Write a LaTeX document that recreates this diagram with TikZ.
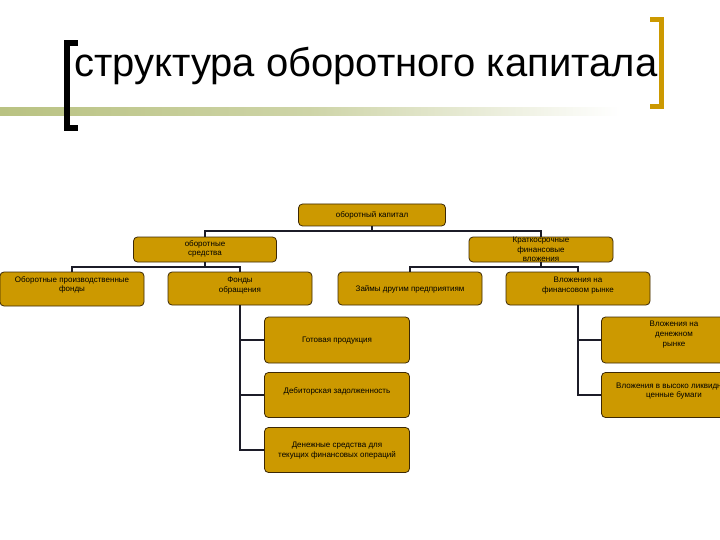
\documentclass[tikz,border=0pt]{standalone}
\usepackage{fontspec}
\setmainfont{Liberation Sans}
\definecolor{boxgold}{RGB}{204,153,0}
\definecolor{boxedge}{RGB}{60,40,5}
\definecolor{linkcol}{RGB}{28,28,40}
\definecolor{rulegreen}{RGB}{185,194,130}
\tikzset{
  orgbox/.style={draw=boxedge, line width=0.8pt, fill=boxgold, rounded corners=4pt, inner sep=0pt},
  orglbl/.style={font=\fontsize{8}{9.6}\selectfont, align=center, inner sep=0pt, text=black},
  link/.style={draw=linkcol, line width=2pt}
}
\begin{document}
\begin{tikzpicture}[x=1pt,y=-1pt]
\useasboundingbox[fill=white] (0,0) rectangle (720,540);

% decorative rule with gradient
\shade[left color=rulegreen, right color=white, middle color=rulegreen!70] (0,108) rectangle (620,116);
% brackets
\draw[line width=6pt, black] (78,43) -- (67,43) -- (67,128) -- (78,128);
\draw[line width=5pt, boxgold] (650,19.5) -- (661,19.5) -- (661,106.5) -- (650,106.5);
% title
\node[anchor=base west, inner sep=0pt, font=\fontsize{40}{45}\selectfont] (title) at (74,77) {структура оборотного капитала};

% boxes
\node[orgbox, minimum width=147pt, minimum height=22pt] (top) at (372,215) {};
\node[orgbox, minimum width=143pt, minimum height=25pt] (os) at (205,249.5) {};
\node[orgbox, minimum width=144pt, minimum height=25pt] (kf) at (541,249.5) {};
\node[orgbox, minimum width=144pt, minimum height=34pt] (opf) at (72,289) {};
\node[orgbox, minimum width=144pt, minimum height=33pt] (fo) at (240,288.5) {};
\node[orgbox, minimum width=144pt, minimum height=33pt] (zd) at (410,288.5) {};
\node[orgbox, minimum width=144pt, minimum height=33pt] (vf) at (578,288.5) {};
\node[orgbox, minimum width=145pt, minimum height=46pt] (gp) at (337,340) {};
\node[orgbox, minimum width=145pt, minimum height=45pt] (dz) at (337,395) {};
\node[orgbox, minimum width=145pt, minimum height=45pt] (dc) at (337,450) {};
\node[orgbox, minimum width=145pt, minimum height=46pt] (vd) at (674,340) {};
\node[orgbox, minimum width=145pt, minimum height=45pt] (vc) at (674,395) {};

% labels
\node[orglbl] (ltop) at (372,215) {оборотный капитал};
\node[orglbl] (los) at (205,249) {оборотные\\средства};
\node[orglbl] (lkf) at (541,249.5) {Краткосрочные\\финансовые\\вложения};
\node[orglbl] (lopf) at (72,285) {Оборотные производственные\\фонды};
\node[orglbl] (lfo) at (240,285.5) {Фонды\\обращения};
\node[orglbl] (lzd) at (410,289) {Займы другим предприятиям};
\node[orglbl] (lvf) at (578,285.5) {Вложения на\\финансовом рынке};
\node[orglbl] (lgp) at (337,341) {Готовая продукция};
\node[orglbl] (ldz) at (337,391) {Дебиторская задолженность};
\node[orglbl] (ldc) at (337,450.5) {Денежные средства для\\текущих финансовых операций};
\node[orglbl] (lvd) at (674,334.5) {Вложения на\\денежном\\рынке};
\node[orglbl] (lvc) at (674,391) {Вложения в высоко ликвидные\\ценные бумаги};

% connectors
\draw[link] (top.south) -- ++(0,5) coordinate (j1);
\draw[link] (j1) -| (os.north);
\draw[link] (j1) -| (kf.north);
\draw[link] (os.south) -- ++(0,5) coordinate (j2);
\draw[link] (j2) -| (opf.north);
\draw[link] (j2) -| (fo.north);
\draw[link] (kf.south) -- ++(0,5) coordinate (j3);
\draw[link] (j3) -| (zd.north);
\draw[link] (j3) -| (vf.north);
\draw[link] (fo.south) |- (gp.west);
\draw[link] (fo.south) |- (dz.west);
\draw[link] (fo.south) |- (dc.west);
\draw[link] (vf.south) |- (vd.west);
\draw[link] (vf.south) |- (vc.west);
\end{tikzpicture}
\end{document}
